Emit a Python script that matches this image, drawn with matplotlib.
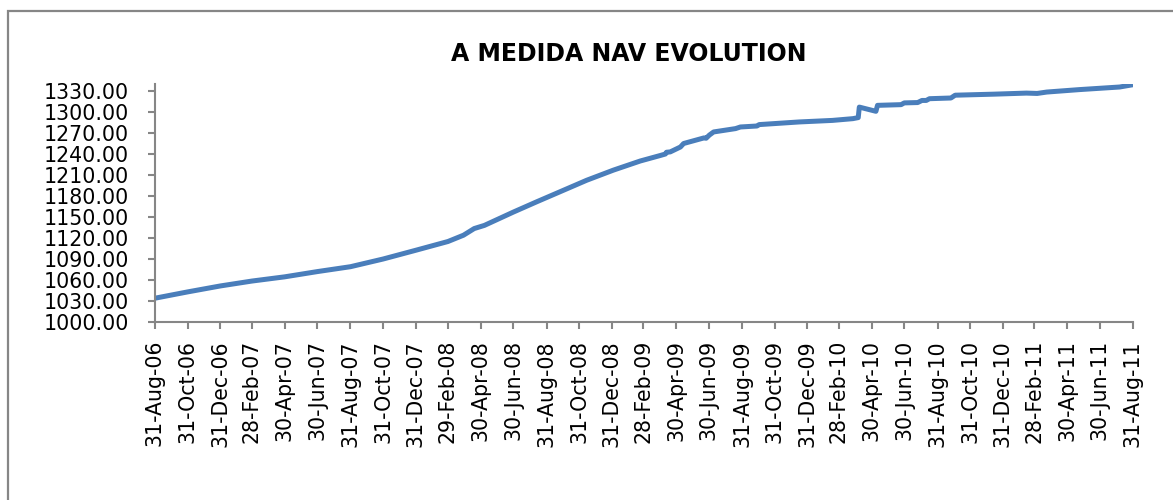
"""A MEDIDA NAV evolution, Excel-style line chart
"""
import matplotlib
matplotlib.use("Agg")
import matplotlib.pyplot as plt
import matplotlib.dates as mdates
import matplotlib.patches as mpatches
import numpy as np
import pandas as pd

# NAV readings
nav_dates = [
    "2006-08-31", "2006-10-31", "2006-12-31", "2007-02-28", "2007-04-30",
    "2007-06-30", "2007-08-31", "2007-10-31", "2007-12-31", "2008-02-29",
    "2008-03-29", "2008-04-18", "2008-05-07", "2008-06-30", "2008-08-12",
    "2008-09-25", "2008-11-14", "2009-01-03", "2009-02-22", "2009-04-01",
    "2009-04-10", "2009-04-12", "2009-04-19", "2009-05-08", "2009-05-14",
    "2009-06-21", "2009-06-25", "2009-07-01", "2009-07-09", "2009-08-19",
    "2009-08-28", "2009-09-28", "2009-10-02", "2009-12-16", "2010-02-16",
    "2010-03-26", "2010-04-05", "2010-04-07", "2010-05-08", "2010-05-11",
    "2010-06-24", "2010-06-30", "2010-07-25", "2010-08-02", "2010-08-10",
    "2010-08-16", "2010-09-25", "2010-10-03", "2010-12-15", "2011-02-13",
    "2011-03-05", "2011-03-23", "2011-05-23", "2011-08-06", "2011-08-31",
]
nav_values = [
    1034.0, 1043.0, 1051.5, 1058.5, 1064.5,
    1072.0, 1079.0, 1090.0, 1102.5, 1115.0,
    1124.0, 1133.5, 1138.0, 1157.0, 1171.5,
    1186.0, 1202.5, 1217.0, 1230.0, 1238.0,
    1240.0, 1242.5, 1243.0, 1250.0, 1255.0,
    1263.0, 1262.5, 1267.0, 1271.5, 1276.3,
    1278.6, 1280.0, 1282.0, 1285.8, 1288.0,
    1290.5, 1292.0, 1307.0, 1301.0, 1309.5,
    1310.5, 1313.0, 1313.5, 1316.5, 1316.5,
    1319.0, 1320.0, 1324.0, 1325.5, 1327.0,
    1326.5, 1328.5, 1332.0, 1335.7, 1339.0,
]

tick_dates = [
    "2006-08-31", "2006-10-31", "2006-12-31", "2007-02-28", "2007-04-30",
    "2007-06-30", "2007-08-31", "2007-10-31", "2007-12-31", "2008-02-29",
    "2008-04-30", "2008-06-30", "2008-08-31", "2008-10-31", "2008-12-31",
    "2009-02-28", "2009-04-30", "2009-06-30", "2009-08-31", "2009-10-31",
    "2009-12-31", "2010-02-28", "2010-04-30", "2010-06-30", "2010-08-31",
    "2010-10-31", "2010-12-31", "2011-02-28", "2011-04-30", "2011-06-30",
    "2011-08-31",
]
y_ticks = np.arange(1000, 1331, 30)

line_color = "#4A7EBB"
axis_color = "#868686"
plt.rcParams["font.family"] = ["DejaVu Sans"]

xs = pd.to_datetime(nav_dates)
ticks = pd.to_datetime(tick_dates)

fig = plt.figure(figsize=(11.73, 5.0), dpi=100)
ax = fig.add_axes([155 / 1173, 1 - 322 / 500, (1133 - 155) / 1173, (322 - 84) / 500])

ax.plot(xs, nav_values, color=line_color, lw=3.6, solid_capstyle="butt")

ax.set_xlim(ticks[0], ticks[-1])
ax.set_ylim(1000, 1340)
ax.set_xticks(ticks)
ax.xaxis.set_major_formatter(mdates.DateFormatter("%d-%b-%y"))
ax.set_yticks(y_ticks)
ax.set_yticklabels([f"{v:.2f}" for v in y_ticks])

for side in ["top", "right"]:
    ax.spines[side].set_visible(False)
for side in ["left", "bottom"]:
    ax.spines[side].set_color(axis_color)
    ax.spines[side].set_linewidth(1.5)

ax.tick_params(axis="both", direction="out", length=5, width=1.5,
               color=axis_color, labelsize=14.8, labelcolor="black")
ax.tick_params(axis="y", pad=14)
ax.tick_params(axis="x", pad=8, labelrotation=90)

fig.text(629 / 1173, 1 - 54 / 500, "A MEDIDA NAV EVOLUTION",
         ha="center", va="center", fontsize=17, fontweight="bold")

# chart-area border, cut by the image edges on the right and bottom
border = mpatches.Rectangle((8 / 1173, -0.1), 1.2, 1 - 11 / 500 + 0.1,
                            transform=fig.transFigure, fill=False,
                            edgecolor=axis_color, lw=1.6, clip_on=False)
fig.patches.append(border)

plt.savefig("out.png", dpi=100)
